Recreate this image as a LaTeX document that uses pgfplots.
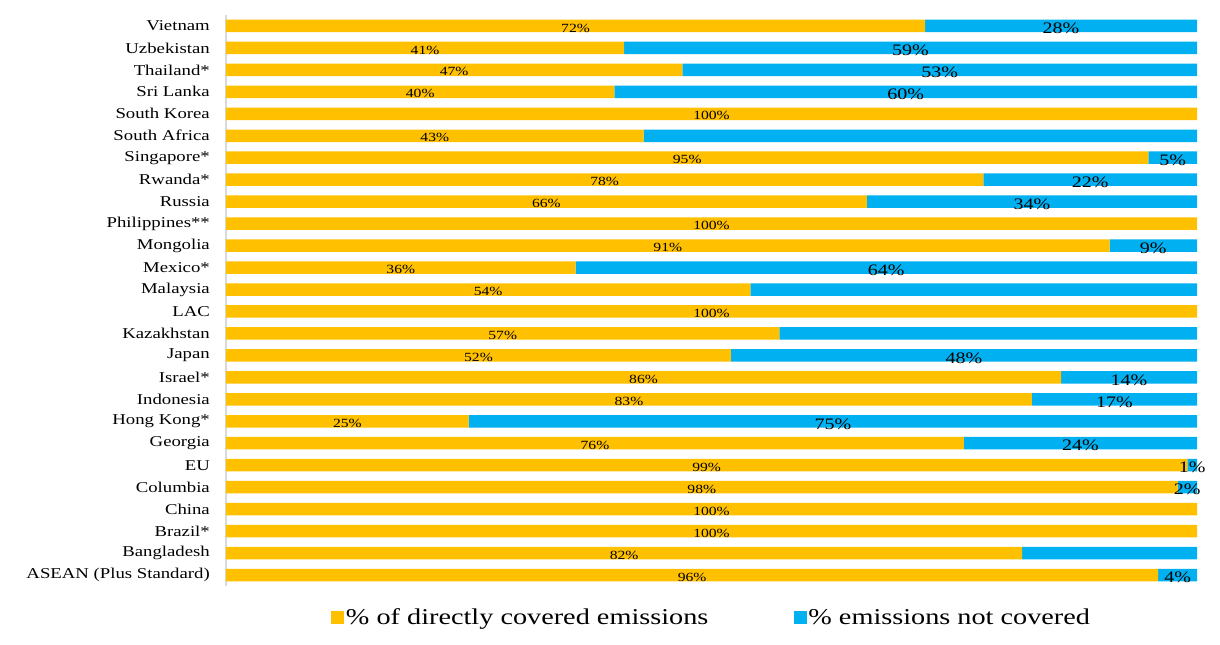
\documentclass[border=0pt]{standalone}
\usepackage{pgfplots}
\pgfplotsset{compat=1.18}
\usepackage{pgfplotstable}
\usepackage{fontspec}
\setmainfont{Liberation Serif}[FakeStretch=1.25]
\definecolor{cyel}{HTML}{FFC000}
\definecolor{cblu}{HTML}{00B0F0}
\pgfplotstableread{
y cov not labA labB
0 96 4 96\% 4\%
1 82 18 82\% {}
2 100 0 100\% {}
3 100 0 100\% {}
4 98 2 98\% 2\%
5 99 1 99\% 1\%
6 76 24 76\% 24\%
7 25 75 25\% 75\%
8 83 17 83\% 17\%
9 86 14 86\% 14\%
10 52 48 52\% 48\%
11 57 43 57\% {}
12 100 0 100\% {}
13 54 46 54\% {}
14 36 64 36\% 64\%
15 91 9 91\% 9\%
16 100 0 100\% {}
17 66 34 66\% 34\%
18 78 22 78\% 22\%
19 95 5 95\% 5\%
20 43 57 43\% {}
21 100 0 100\% {}
22 40 60 40\% 60\%
23 47 53 47\% 53\%
24 41 59 41\% 59\%
25 72 28 72\% 28\%
}\datatable
\begin{document}
\begin{tikzpicture}
\path[use as bounding box] (-226bp,-59bp) rectangle (994bp,586bp);
\begin{axis}[
  at={(0,0)}, anchor=south west,
  scale only axis, width=971bp, height=571bp,
  xbar stacked, bar width=12.5bp,
  xmin=0, xmax=100, ymin=-0.5, ymax=25.5,
  axis x line=none,
  axis y line=left,
  y axis line style={-, draw=black!15, line width=1.2bp},
  ytick={0,...,25},
  yticklabels={ASEAN (Plus Standard),Bangladesh,Brazil*,China,Columbia,EU,Georgia,Hong Kong*,Indonesia,Israel*,Japan,Kazakhstan,LAC,Malaysia,Mexico*,Mongolia,Philippines**,Russia,Rwanda*,Singapore*,South Africa,South Korea,Sri Lanka,Thailand*,Uzbekistan,Vietnam},
  yticklabel style={font=\fontsize{15bp}{18bp}\selectfont, inner sep=0pt, xshift=-16bp},
  major tick length=0pt,
  ytick style={draw=none},
  legend style={draw=none, at={(0.5,-0.0543)}, anchor=center,
    font=\fontsize{22.6bp}{26bp}\selectfont, legend columns=2,
    /tikz/every even column/.append style={column sep=84bp},
    nodes={inner sep=1.5bp}},
  legend cell align=left,
  legend image code/.code={\fill[#1, draw=none] (0bp,-6.5bp) rectangle (13bp,6.5bp);},
]
\addplot[fill=cyel, draw=none,
  point meta=explicit symbolic,
  nodes near coords,
  every node near coord/.append style={anchor=center, text=black, inner sep=0pt,
    font=\fontsize{12.5bp}{15bp}\selectfont, yshift=-2bp},
] table[x=cov, y=y, meta=labA] {\datatable};
\addlegendentry{\% of directly covered emissions}
\addplot[fill=cblu, draw=none,
  point meta=explicit symbolic,
  nodes near coords,
  every node near coord/.append style={anchor=center, text=black, inner sep=0pt,
    font=\fontsize{16bp}{18bp}\selectfont, yshift=-2.5bp},
] table[x=not, y=y, meta=labB] {\datatable};
\addlegendentry{\% emissions not covered}
\end{axis}
\end{tikzpicture}
\end{document}
